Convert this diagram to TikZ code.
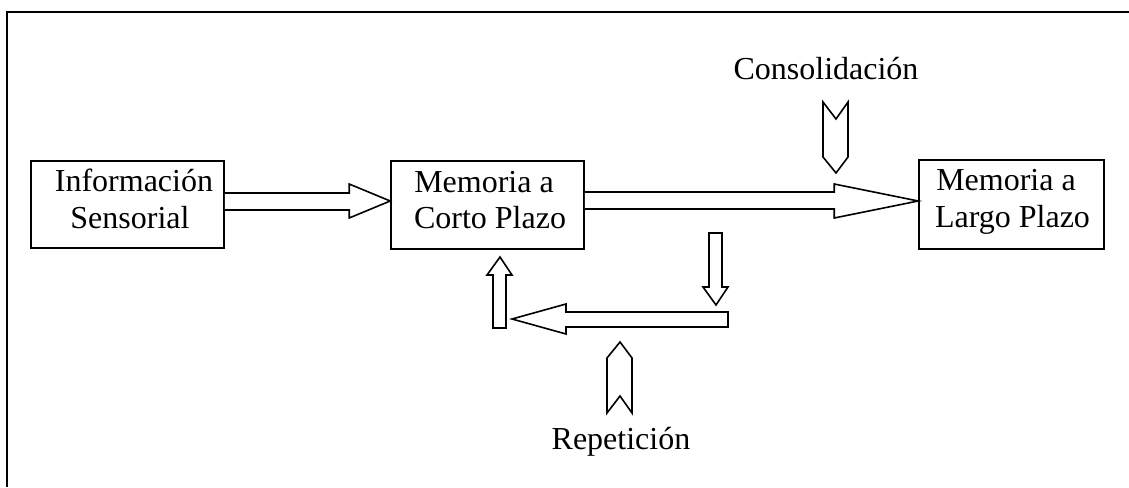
\documentclass[tikz,border=0pt]{standalone}
\usepackage{fontspec}
\setmainfont{Liberation Serif}
\usetikzlibrary{calc}
\begin{document}
\begin{tikzpicture}[x=1pt,y=-1pt,
  box/.style={draw,line width=1.6pt,inner sep=0pt},
  blk/.style={draw,line width=1.6pt,line join=miter,fill=white},
  lbl/.style={anchor=base,inner sep=0pt,font=\fontsize{32}{37}\selectfont}]
\useasboundingbox (0,0) rectangle (1129,487);
% open frame: top and left edges only
\draw[line width=2.2pt] (7,487) -- (7,12) -- (1129,12);

% the three stores
\node[box,minimum width=193pt,minimum height=87pt] (s) at (127.5,204.5) {};
\node[box,minimum width=193pt,minimum height=88pt] (c) at (487.5,205) {};
\node[box,minimum width=185pt,minimum height=89pt] (l) at (1011.5,204.5) {};

\node[lbl] (s1) at ($(s.center)+(6.5,-13.5)$) {Información};
\node[lbl] (s2) at ($(s.center)+(2.5,23.5)$) {Sensorial};
\node[lbl] (c1) at ($(c.center)+(-3.5,-13)$) {Memoria a};
\node[lbl] (c2) at ($(c.center)+(2.5,23)$) {Corto Plazo};
\node[lbl] (l1) at ($(l.center)+(-5.5,-14.5)$) {Memoria a};
\node[lbl] (l2) at ($(l.center)+(1,22.5)$) {Largo Plazo};

% block arrow: sensory -> short term
\draw[blk] ($(s.east)+(0,-11.5)$) -- ($(c.west)+(-41,-12)$) -- ($(c.west)+(-41,-21)$)
  -- ($(c.west)+(0,-4)$) -- ($(c.west)+(-41,13)$) -- ($(c.west)+(-41,5)$)
  -- ($(s.east)+(0,5.5)$);

% block arrow: short term -> long term
\draw[blk] ($(c.east)+(0,-13)$) -- ($(l.west)+(-84,-12.5)$) -- ($(l.west)+(-84,-20.5)$)
  -- ($(l.west)+(0,-3.5)$) -- ($(l.west)+(-84,13.5)$) -- ($(l.west)+(-84,4.5)$)
  -- ($(c.east)+(0,4)$);

% rehearsal loop
\draw[blk] (709,233) -- (722,233) -- (722,287) -- (728,287) -- (716,305)
  -- (703,287) -- (709,287) -- cycle;
\draw[blk] (728,312) -- (566,312) -- (566,304) -- (512,319) -- (566,334)
  -- (566,327) -- (728,327) -- cycle;
\draw[blk] (493,328) -- (493,275) -- (487,275) -- (500,257) -- (512,275)
  -- (506,275) -- (506,328) -- cycle;

% chevrons
\draw[blk] (823,102) -- (836,119) -- (848,102) -- (848,157) -- (836,173)
  -- (823,157) -- cycle;
\draw[blk] (607,358) -- (620,342) -- (632,358) -- (632,413) -- (620,396)
  -- (607,413) -- cycle;

\node[lbl] (cons) at (826,79) {Consolidación};
\node[lbl] (rep) at (621,449) {Repetición};
\end{tikzpicture}
\end{document}
